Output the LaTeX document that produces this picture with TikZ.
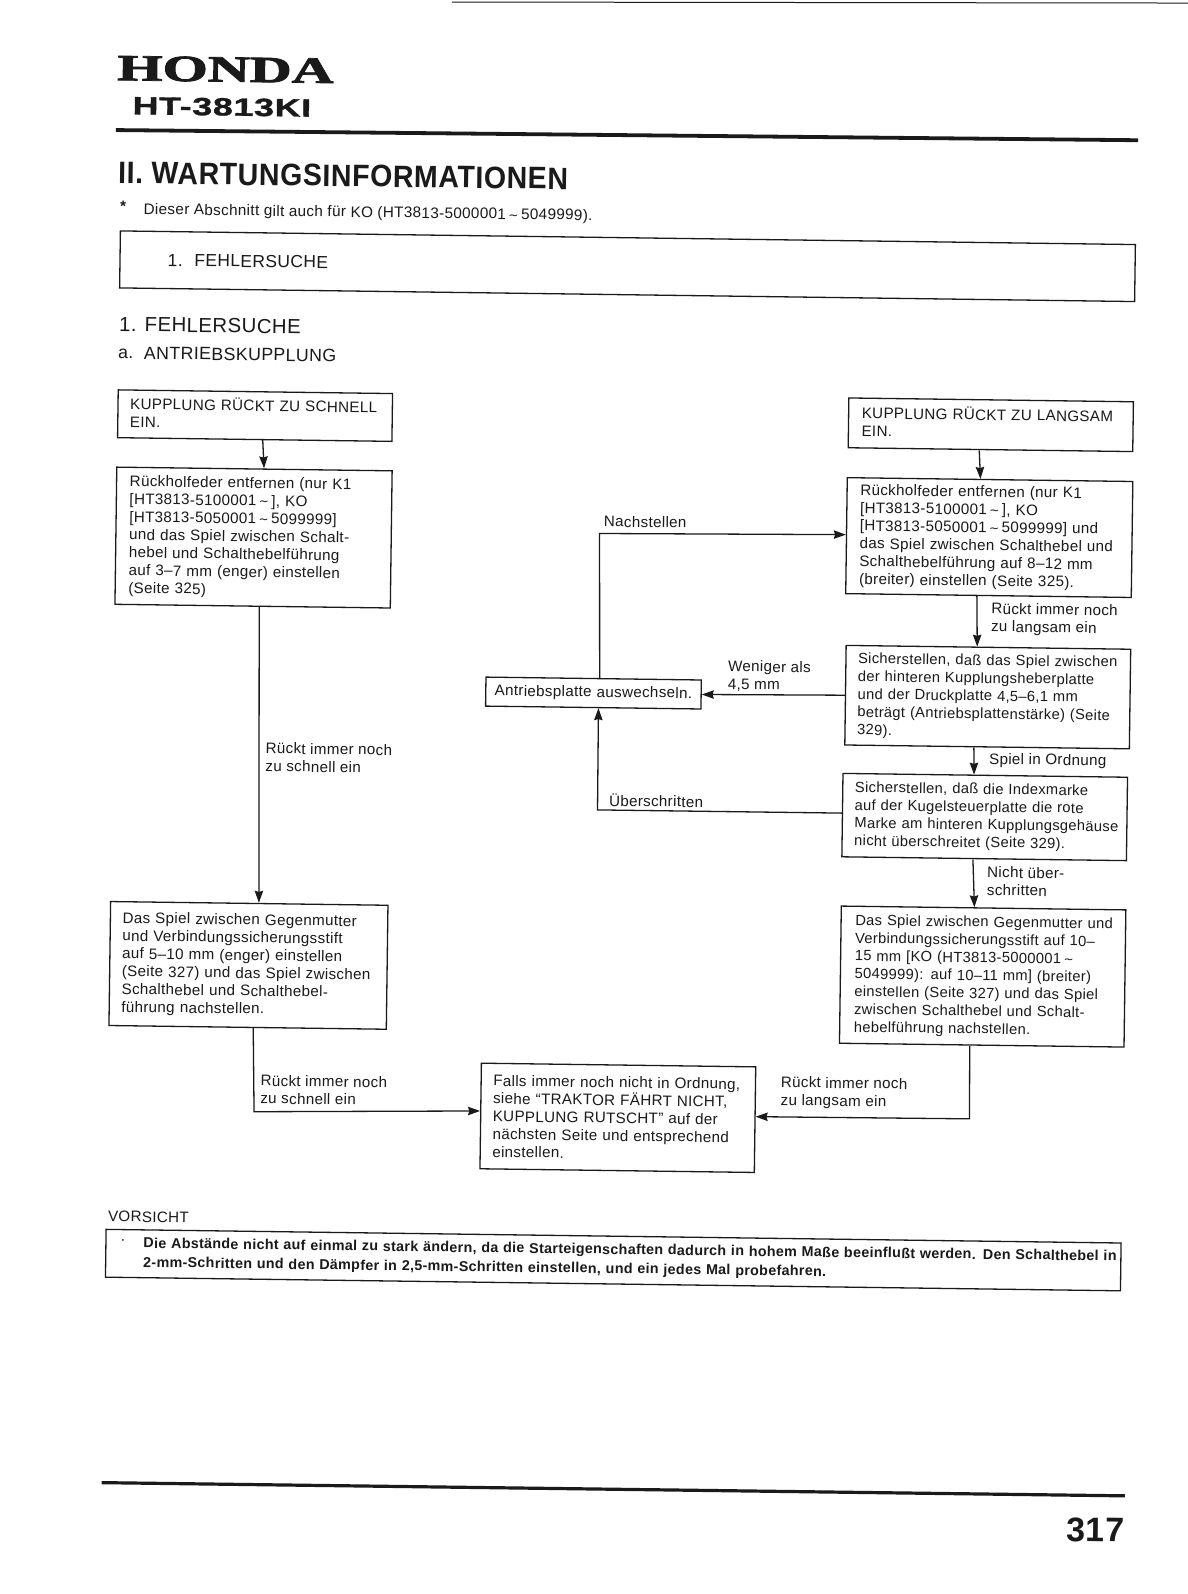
\documentclass[tikz,border=0pt]{standalone}
\usepackage{fontspec}
\setmainfont[LetterSpace=2]{Liberation Sans}
\newfontfamily\hondafont[BoldFeatures={FakeBold=2}]{Liberation Serif}
\newfontfamily\heavyf[LetterSpace=2,BoldFeatures={FakeBold=1.2,LetterSpace=2}]{Liberation Sans}
\newfontfamily\symf{DejaVu Sans}
\newcommand{\tld}{\,{\symf\fontsize{6}{8.9}\selectfont ∼}\,}
\usetikzlibrary{arrows.meta}
\definecolor{ink}{HTML}{1A1A1A}
\tikzset{
  pagerot/.style={rotate=-0.77},
  bx/.style={draw=ink,line width=0.65pt,pagerot,align=left,inner xsep=1pt,inner ysep=0pt,text=ink,font=\fontsize{7.6}{8.9}\selectfont},
  bxs/.style={bx,font=\fontsize{7.38}{8.9}\selectfont},
  lb/.style={pagerot,anchor=west,align=left,inner sep=0pt,text=ink,font=\fontsize{7.6}{8.9}\selectfont},
  ln/.style={draw=ink,line width=0.65pt},
  ar/.style={ln,-{Stealth[length=6pt,width=4.2pt,inset=0.6pt]}},
  rule/.style={draw=ink,line width=1.9pt},
}
\begin{document}
\begin{tikzpicture}[x=0.50815pt,y=-0.50815pt]
\useasboundingbox (0,0) rectangle (1169,1568.6);
\fill[white] (0,0) rectangle (1169,1568.6);
% header
\coordinate (t1) at (445,2); \coordinate (t2) at (1169,3);
\draw[ink,line width=0.5pt] (t1) -- (t2);
\node[lb,font=\hondafont\fontsize{18.5}{19}\bfseries\selectfont,xscale=1.57] (honda) at (115,67) {HONDA};
\node[lb,font=\heavyf\fontsize{12.5}{12.5}\bfseries\selectfont,xscale=1.43] (model) at (130,104) {HT-3813KI};
\coordinate (r1) at (114,128); \coordinate (r2) at (1120,138);
\draw[rule] (r1) -- (r2);
\node[lb,font=\fontsize{15.5}{16}\bfseries\selectfont,xscale=0.92] (title) at (116,170) {II. WARTUNGSINFORMATIONEN};
\node[lb,font=\bfseries\fontsize{7.6}{8.9}\selectfont] (star) at (118,203) {*};
\node[lb,font=\fontsize{7.65}{8.9}\selectfont] (note) at (141,207) {Dieser Abschnitt gilt auch für KO (HT3813-5000001\tld 5049999).};
\node[bx,minimum width=507.6pt,minimum height=28.5pt,text width=505.6pt,font=\fontsize{8.75}{11}\selectfont] (hdrbox) at (617.5,262) {\leftskip=22.9pt 1.\ \ FEHLERSUCHE\par};
\node[lb,font=\fontsize{10.2}{12}\selectfont] (sec) at (117,319) {1. FEHLERSUCHE};
\node[lb,font=\fontsize{8.9}{11}\selectfont] (sub) at (116,347) {a.\ \ ANTRIEBSKUPPLUNG};
% boxes
\node[bx,minimum width=137.2pt,minimum height=23.9pt,text width=135.2pt] (A) at (251,409) {\leftskip=5.1pt KUPPLUNG RÜCKT ZU SCHNELL\\EIN.\par\vspace*{2pt}};
\node[bx,minimum width=137.7pt,minimum height=68.6pt,text width=135.7pt] (B) at (249.5,529) {\leftskip=5.6pt Rückholfeder entfernen (nur K1\\{[}HT3813-5100001\tld{]}, KO\\{[}HT3813-5050001\tld 5099999{]}\\und das Spiel zwischen Schalt-\\hebel und Schalthebelführung\\auf 3–7 mm (enger) einstellen\\(Seite 325)\par};
\node[bx,minimum width=138.7pt,minimum height=62pt,text width=136.7pt] (C) at (244.5,950) {\leftskip=5.1pt Das Spiel zwischen Gegenmutter\\und Verbindungssicherungsstift\\auf 5–10 mm (enger) einstellen\\(Seite 327) und das Spiel zwischen\\Schalthebel und Schalthebel-\\führung nachstellen.\par};
\node[bx,minimum width=142.3pt,minimum height=24.9pt,text width=140.3pt] (D) at (975,418) {\leftskip=5.6pt KUPPLUNG RÜCKT ZU LANGSAM\\EIN.\par\vspace*{2pt}};
\node[bx,minimum width=142.8pt,minimum height=58pt,text width=140.8pt] (E) at (973.5,529) {\leftskip=5.6pt Rückholfeder entfernen (nur K1\\{[}HT3813-5100001\tld{]}, KO\\{[}HT3813-5050001\tld 5099999{]} und\\das Spiel zwischen Schalthebel und\\Schalthebelführung auf 8–12 mm\\(breiter) einstellen (Seite 325).\par};
\node[bxs,minimum width=142.3pt,minimum height=49.8pt,text width=140.3pt] (F) at (972,686) {\leftskip=5.1pt Sicherstellen, daß das Spiel zwischen\\der hinteren Kupplungsheberplatte\\und der Druckplatte 4,5–6,1 mm\\beträgt (Antriebsplattenstärke) (Seite\\329).\par};
\node[bxs,minimum width=142.3pt,minimum height=41.7pt,text width=140.3pt] (G) at (969,804) {\leftskip=5.1pt Sicherstellen, daß die Indexmarke\\auf der Kugelsteuerplatte die rote\\\mbox{Marke am hinteren Kupplungsgehäuse}\\nicht überschreitet (Seite 329).\par};
\node[bxs,minimum width=142.3pt,minimum height=68.6pt,text width=140.3pt] (H) at (967,961) {\leftskip=6.1pt Das Spiel zwischen Gegenmutter und\\Verbindungssicherungsstift auf 10–\\15 mm {[}KO (HT3813-5000001\tld\\5049999): auf 10–11 mm{]} (breiter)\\einstellen (Seite 327) und das Spiel\\zwischen Schalthebel und Schalt-\\hebelführung nachstellen.\par};
\node[bx,minimum width=107.7pt,minimum height=14.5pt,text width=105.7pt,align=center] (I) at (584,682) {Antriebsplatte auswechseln.};
\node[bx,minimum width=137.2pt,minimum height=52.8pt,text width=135.2pt] (J) at (608,1100) {\leftskip=5.1pt Falls immer noch nicht in Ordnung,\\siehe “TRAKTOR FÄHRT NICHT,\\KUPPLUNG RUTSCHT” auf der\\nächsten Seite und entsprechend\\einstellen.\par};
% connectors
\draw[ar] ([xshift=4pt]A.south) -- ([xshift=4.8pt]B.north);
\draw[ar] ([xshift=3.3pt]B.south) -- ([xshift=4.8pt]C.north);
\coordinate (c1) at (250,1094);
\draw[ar] ([xshift=2.8pt]C.south) -- (c1) -- ([yshift=2.5pt]J.west);
\coordinate (c2) at (954,1101);
\draw[ar] ([xshift=-6pt]H.south) -- (c2) -- ([yshift=1.5pt]J.east);
\draw[ar] ([xshift=-5.6pt]D.south) -- ([xshift=-4.8pt]E.north);
\draw[ar] ([xshift=-5.8pt]E.south) -- ([xshift=-5.6pt]F.north);
\draw[ar] ([xshift=-6.6pt]F.south) -- ([xshift=-5.6pt]G.north);
\draw[ar] ([xshift=-5.6pt]G.south) -- ([xshift=-4.6pt]H.north);
\draw[ar] (F.west) -- (I.east);
\coordinate (c3) at (590,525);
\draw[ar] ([xshift=3pt]I.north) -- (c3) -- ([yshift=0.5pt]E.west);
\coordinate (c4) at (588,797);
\draw[ar] ([yshift=1pt]G.west) -- (c4) -- ([xshift=2.6pt]I.south);
% labels
\node[lb] (l1) at (594,513) {Nachstellen};
\node[lb] (l2) at (975,609) {Rückt immer noch\\zu langsam ein};
\node[lb] (l3) at (716,665) {Weniger als\\4,5 mm};
\node[lb] (l4) at (973,748) {Spiel in Ordnung};
\node[lb] (l5) at (599,787) {Überschritten};
\node[lb] (l6) at (971,867) {Nicht über-\\schritten};
\node[lb] (l7) at (261,745) {Rückt immer noch\\zu schnell ein};
\node[lb] (l8) at (256,1072) {Rückt immer noch\\zu schnell ein};
\node[lb] (l9) at (768,1075) {Rückt immer noch\\zu langsam ein};
% caution
\node[lb] (vor) at (106,1197) {VORSICHT};
\node[bx,minimum width=507.6pt,minimum height=23.9pt,text width=505.6pt,font=\fontsize{7.17}{9.6}\bfseries\selectfont] (cau) at (603.5,1240) {\leftskip=17.8pt Die Abstände nicht auf einmal zu stark ändern, da die Starteigenschaften dadurch in hohem Maße beeinflußt werden. Den Schalthebel in\\2-mm-Schritten und den Dämpfer in 2,5-mm-Schritten einstellen, und ein jedes Mal probefahren.\par};
\node[lb] (dot) at (118,1222) {·};
% footer
\coordinate (f1) at (100,1459); \coordinate (f2) at (1107,1472);
\draw[rule,line width=1.6pt] (f1) -- (f2);
\node[lb,font=\fontsize{17}{17}\bfseries\selectfont] (pg) at (1049,1505) {317};
\end{tikzpicture}
\end{document}
